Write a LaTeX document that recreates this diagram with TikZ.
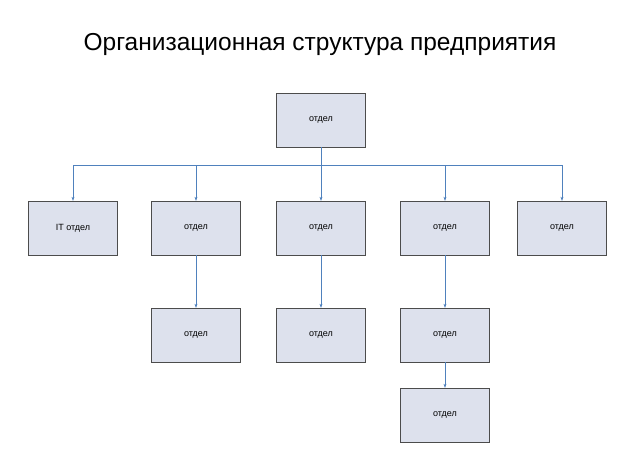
\documentclass[tikz,border=0pt]{standalone}
\usepackage{fontspec}
\setmainfont{Liberation Sans}
\usetikzlibrary{arrows.meta}
\definecolor{boxfill}{RGB}{221,225,237}
\definecolor{conncol}{RGB}{79,129,189}
\begin{document}
\begin{tikzpicture}[x=1pt,y=-1pt,
  box/.style={draw=black!70, fill=boxfill, minimum width=89pt, minimum height=54pt, inner sep=0pt, font=\fontsize{9}{11}\selectfont},
  conn/.style={draw=conncol, -{Stealth[length=4pt,width=3pt]}}]
\useasboundingbox (0,0) rectangle (640,470);
\node[font=\fontsize{24.5}{28}\selectfont] (title) at (320,44) {Организационная структура предприятия};
\node[box] (top) at (321,120) {отдел};
\node[box] (a) at (73,228) {IT отдел};
\node[box] (b) at (196,228) {отдел};
\node[box] (c) at (321,228) {отдел};
\node[box] (d) at (445,228) {отдел};
\node[box] (e) at (562,228) {отдел};
\node[box] (b2) at (196,335) {отдел};
\node[box] (c2) at (321,335) {отдел};
\node[box] (d2) at (445,335) {отдел};
\node[box] (d3) at (445,415) {отдел};
\coordinate (bus) at (321,165);
\draw[draw=conncol] (top.south) -- (bus);
\foreach \n in {a,b,c,d,e} \draw[conn] (bus) -| (\n.north);
\draw[conn] (b) -- (b2);
\draw[conn] (c) -- (c2);
\draw[conn] (d) -- (d2);
\draw[conn] (d2) -- (d3);
\end{tikzpicture}
\end{document}
